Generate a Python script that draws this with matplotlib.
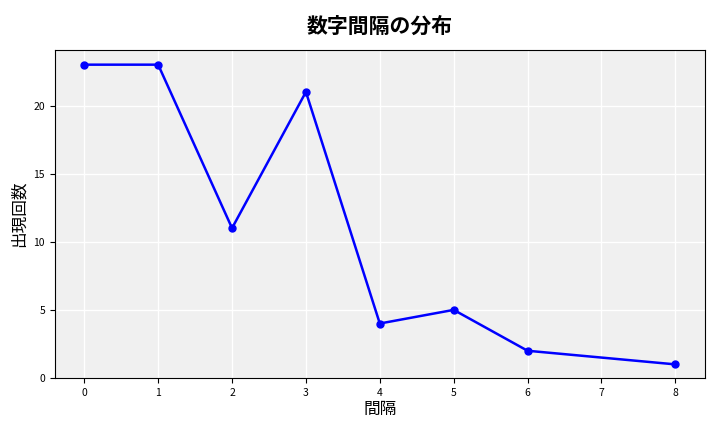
import matplotlib
matplotlib.use("Agg")
import matplotlib.pyplot as plt

plt.rcParams['font.family'] = ['Noto Sans CJK JP', 'DejaVu Sans']

gaps = [0, 1, 2, 3, 4, 5, 6, 8]
counts = [23, 23, 11, 21, 4, 5, 2, 1]

fig = plt.figure(figsize=(7.2, 4.32), dpi=100)
ax = fig.add_axes([0.076, 0.125, 0.903, 0.76])
ax.set_facecolor('#f0f0f0')
ax.grid(True, color='white', linewidth=1)
ax.set_axisbelow(True)
ax.plot(gaps, counts, color='blue', marker='o', markersize=5, linewidth=1.8)
ax.set_title('数字間隔の分布', fontsize=15, fontweight='bold', pad=12)
ax.set_xlabel('間隔', fontsize=12, labelpad=2)
ax.set_ylabel('出現回数', fontsize=12)
ax.set_xticks(range(0, 9))
ax.set_yticks([0, 5, 10, 15, 20])
ax.tick_params(labelsize=7.5)
ax.set_ylim(0, 24.1)
fig.savefig('out.png', dpi=100)
